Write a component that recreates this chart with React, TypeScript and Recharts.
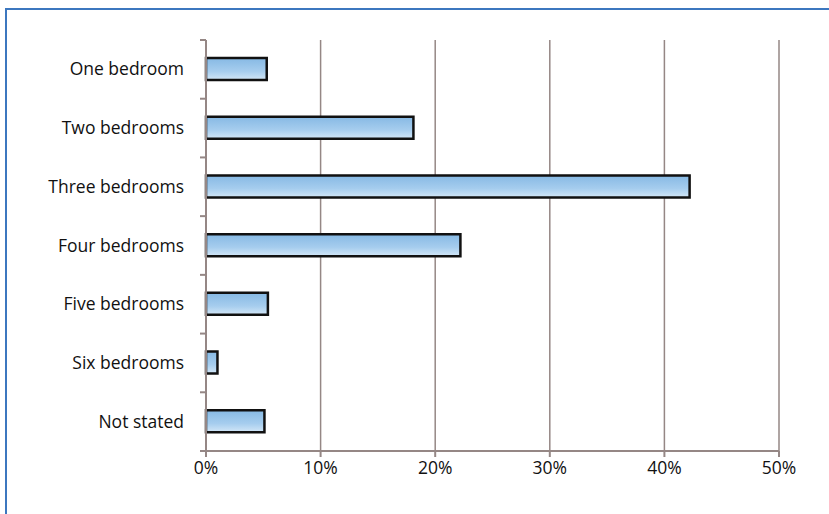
import React from "react";
import { BarChart, Bar, XAxis, YAxis, CartesianGrid } from "recharts";

const categories = ["One bedroom", "Two bedrooms", "Three bedrooms", "Four bedrooms", "Five bedrooms", "Six bedrooms", "Not stated"];
const shares = [5.3, 18.1, 42.2, 22.2, 5.4, 1.0, 5.1];
const xTicks = [0, 10, 20, 30, 40, 50];

const data = categories.map((name, i) => ({ name, value: shares[i] }));

const W = 829;
const H = 514;
const M = { top: 40, right: 50, bottom: 33, left: 0 };
const Y_W = 206;
const X_H = 30;
const band = (H - M.top - M.bottom - X_H) / categories.length;
const axisColor = "#958785";
const font = "'Open Sans', sans-serif";

// label at band centre, tick marks at band edges
const CatTick = ({ y, payload, index }: any) => {
    const ax = Y_W; // axis position
    return (
        <g>
            <text x={ax - 22} y={y} dy={6} textAnchor="end" fill="#111" fontSize={17.5} fontFamily={font}>
                {payload.value}
            </text>
            <line x1={ax - 6} x2={ax} y1={y - band / 2} y2={y - band / 2} stroke={axisColor} strokeWidth={2} />
            {index === categories.length - 1 && (
                <line x1={ax - 6} x2={ax} y1={y + band / 2} y2={y + band / 2} stroke={axisColor} strokeWidth={2} />
            )}
        </g>
    );
};

export default function App() {
    return (
        <div style={{ position: "absolute", left: 0, top: 0, width: W, height: H, overflow: "hidden", background: "#fff" }}>
            <div style={{
                position: "absolute", left: 5, top: 8, width: W + 40, height: H + 40,
                borderTop: "2px solid #3c77bf", borderLeft: "2px solid #3c77bf",
            }} />
            <div style={{ position: "absolute", left: 0, top: 0 }}>
                <BarChart layout="vertical" width={W} height={H} data={data} margin={M} barSize={22}>
                    <defs>
                        <linearGradient id="bar-grad" x1="0" y1="0" x2="0" y2="1">
                            <stop offset="0%" stopColor="#86b9e4" />
                            <stop offset="60%" stopColor="#a6cdee" />
                            <stop offset="100%" stopColor="#d3e7f7" />
                        </linearGradient>
                    </defs>
                    <CartesianGrid horizontal={false} stroke={axisColor} strokeWidth={1.5} />
                    <XAxis
                        type="number"
                        domain={[0, 50]}
                        ticks={xTicks}
                        tickFormatter={(v) => `${v}%`}
                        height={X_H}
                        stroke={axisColor}
                        strokeWidth={2}
                        tickSize={6}
                        tick={{ fontSize: 17.5, fill: "#111", fontFamily: font, dy: 3 }}
                    />
                    <YAxis
                        type="category"
                        dataKey="name"
                        width={Y_W}
                        stroke={axisColor}
                        strokeWidth={2}
                        tickLine={false}
                        tick={<CatTick />}
                        interval={0}
                    />
                    <Bar dataKey="value" fill="url(#bar-grad)" stroke="#111" strokeWidth={2.5} isAnimationActive={false} />
                </BarChart>
            </div>
        </div>
    );
}
